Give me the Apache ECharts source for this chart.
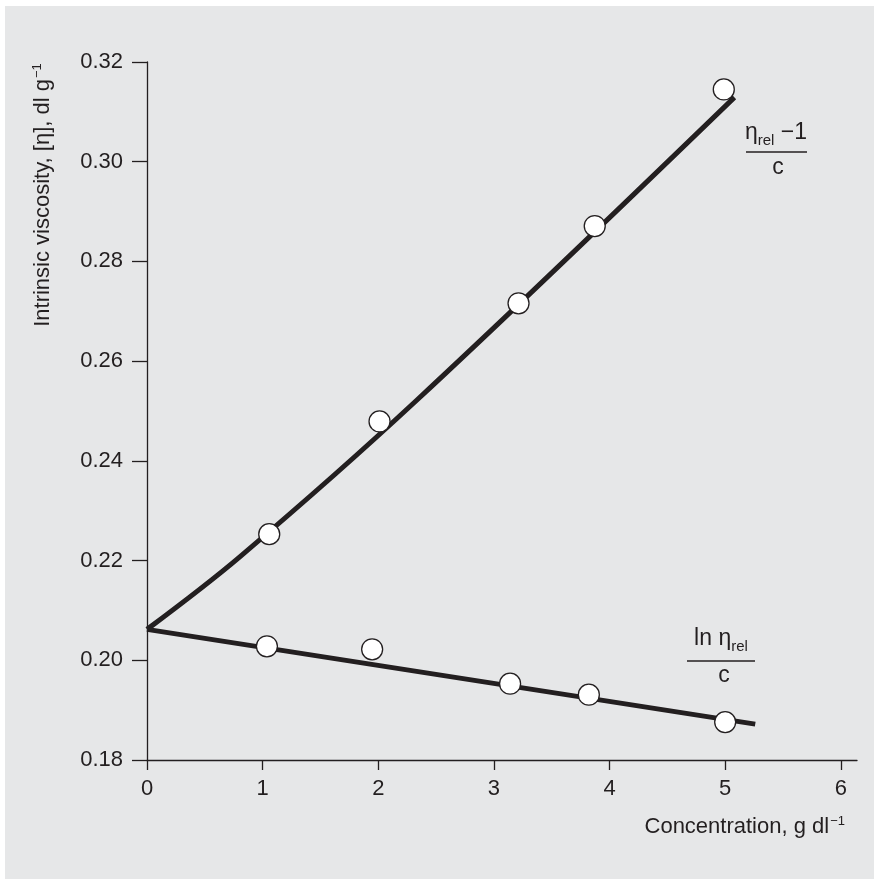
<!DOCTYPE html>
<html><head><meta charset="utf-8">
<script src="https://cdn.jsdelivr.net/npm/echarts@6/dist/echarts.min.js"></script>
<style>html,body{margin:0;padding:0;background:#fff}#c{width:874px;height:879px}</style>
</head><body><div id="c"></div>
<script>
// ---- data ----
const xTicks = [0, 1, 2, 3, 4, 5, 6];
const yTicks = [0.18, 0.20, 0.22, 0.24, 0.26, 0.28, 0.30, 0.32];
const yTickLabels = ['0.18', '0.20', '0.22', '0.24', '0.26', '0.28', '0.30', '0.32'];
// (eta_rel - 1)/c measured points
const upperX = [1.057, 2.011, 3.213, 3.872, 4.988];
const upperY = [0.2253, 0.2479, 0.2716, 0.2871, 0.3145];
// ln(eta_rel)/c measured points
const lowerX = [1.037, 1.947, 3.140, 3.821, 5.000];
const lowerY = [0.2028, 0.2022, 0.1953, 0.1931, 0.1876];
// extrapolation lines
const upperFitX = [0, 0.8, 2.33, 5.08];
const upperFitY = [0.2062, 0.2207, 0.2521, 0.3129];
const lowerFitX = [0, 5.26];
const lowerFitY = [0.2062, 0.1872];

const xAxisName = 'Concentration, g dl';
const yAxisName = 'Intrinsic viscosity, [η], dl g';

const zip = (a, b) => a.map((v, i) => [v, b[i]]);
const ink = '#231f20';
const font = 'Liberation Sans, Arial, Helvetica, sans-serif';

const chart = echarts.init(document.getElementById('c'), null, {renderer: 'canvas'});
chart.setOption({
  backgroundColor: '#ffffff',
  animation: false,
  textStyle: {fontFamily: font, color: ink},
  grid: {left: 147, right: 17, top: 62, bottom: 119, containLabel: false},
  xAxis: {
    type: 'value', min: 0, max: 6.14,
    splitLine: {show: false},
    axisLine: {show: true, onZero: false, lineStyle: {color: ink, width: 1.3}},
    axisTick: {show: true, length: 10, lineStyle: {color: ink, width: 1.3}, customValues: xTicks},
    axisLabel: {color: ink, fontSize: 22, fontFamily: font, margin: 18, customValues: xTicks,
      formatter: v => String(Math.round(v))},
    name: xAxisName + '{sup|−1}',
    nameLocation: 'end', nameGap: -12,
    nameTextStyle: {color: ink, fontSize: 22, fontFamily: font, align: 'right', verticalAlign: 'top',
      padding: [55, 0, 0, 0],
      rich: {sup: {fontSize: 13, fontFamily: font, color: ink, verticalAlign: 'top', padding: [0, 0, 11, 1]}}}
  },
  yAxis: {
    type: 'value', min: 0.18, max: 0.32,
    splitLine: {show: false},
    axisLine: {show: true, onZero: false, lineStyle: {color: ink, width: 1.3}},
    axisTick: {show: true, length: 15, lineStyle: {color: ink, width: 1.3}, customValues: yTicks},
    axisLabel: {color: ink, fontSize: 22, fontFamily: font, margin: 24, customValues: yTicks,
      formatter: v => yTickLabels[yTicks.findIndex(t => Math.abs(t - v) < 1e-6)] || ''}
  },
  graphic: [
    {type: 'rect', z: -100, silent: true, shape: {x: 5, y: 6, width: 869, height: 873}, style: {fill: '#e6e7e8'}},
    {type: 'text', x: 43, y: 195, rotation: Math.PI / 2, z: 100,
      style: {text: yAxisName + '{sup|−1}', fill: ink, font: '22px ' + font, align: 'center', verticalAlign: 'middle',
        rich: {sup: {fontSize: 13, fill: ink, fontFamily: font, verticalAlign: 'top', padding: [0, 0, 11, 1]}}}},
    // upper label: (eta_rel - 1)/c
    {type: 'text', x: 776, y: 133, z: 100,
      style: {text: '{t|η}{s|rel}{t| −1}', align: 'center', verticalAlign: 'middle',
        rich: {t: {fontSize: 23, fontFamily: font, fill: ink, lineHeight: 26, verticalAlign: 'middle'},
               s: {fontSize: 15, fontFamily: font, fill: ink, lineHeight: 15, padding: [15, 0, 0, 0]}}}},
    {type: 'line', z: 100, shape: {x1: 746, y1: 152, x2: 807, y2: 152}, style: {stroke: ink, lineWidth: 1.5}},
    {type: 'text', x: 778, y: 168, z: 100,
      style: {text: 'c', fill: ink, font: '23px ' + font, align: 'center', verticalAlign: 'middle'}},
    // lower label: ln eta_rel / c
    {type: 'text', x: 721, y: 639, z: 100,
      style: {text: '{t|ln η}{s|rel}', align: 'center', verticalAlign: 'middle',
        rich: {t: {fontSize: 23, fontFamily: font, fill: ink, lineHeight: 26, verticalAlign: 'middle'},
               s: {fontSize: 15, fontFamily: font, fill: ink, lineHeight: 15, padding: [15, 0, 0, 0]}}}},
    {type: 'line', z: 100, shape: {x1: 687, y1: 661, x2: 755, y2: 661}, style: {stroke: ink, lineWidth: 1.5}},
    {type: 'text', x: 724, y: 676, z: 100,
      style: {text: 'c', fill: ink, font: '23px ' + font, align: 'center', verticalAlign: 'middle'}}
  ],
  series: [
    {type: 'line', data: zip(upperFitX, upperFitY), showSymbol: false, symbol: 'none', z: 2, smooth: 0.35,
      lineStyle: {color: ink, width: 5, cap: 'butt', join: 'round'}},
    {type: 'line', data: zip(lowerFitX, lowerFitY), showSymbol: false, symbol: 'none', z: 2,
      lineStyle: {color: ink, width: 5, cap: 'butt', join: 'round'}},
    {type: 'scatter', data: zip(upperX, upperY), symbol: 'circle', symbolSize: 21, z: 5,
      itemStyle: {color: '#ffffff', borderColor: ink, borderWidth: 1.3, opacity: 1}},
    {type: 'scatter', data: zip(lowerX, lowerY), symbol: 'circle', symbolSize: 21, z: 5,
      itemStyle: {color: '#ffffff', borderColor: ink, borderWidth: 1.3, opacity: 1}}
  ]
});
</script>
</body></html>
